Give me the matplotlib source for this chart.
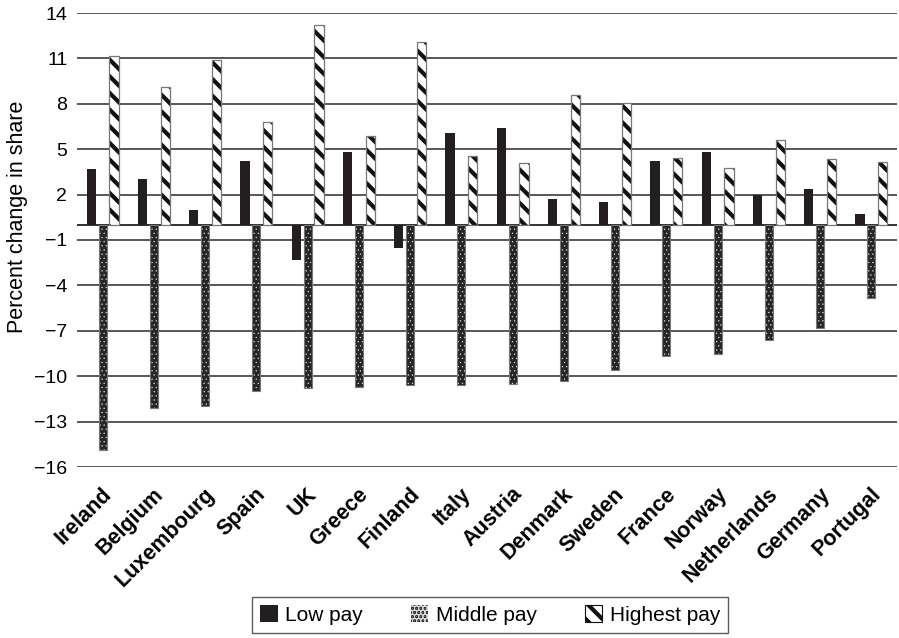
import matplotlib
matplotlib.use("Agg")
import matplotlib.pyplot as plt
import matplotlib.transforms as mtransforms
from matplotlib.patches import Patch
import numpy as np

plt.rcParams['font.family'] = ['Liberation Sans', 'DejaVu Sans']
plt.rcParams['hatch.linewidth'] = 3.0

countries = ["Ireland", "Belgium", "Luxembourg", "Spain", "UK", "Greece", "Finland",
             "Italy", "Austria", "Denmark", "Sweden", "France", "Norway",
             "Netherlands", "Germany", "Portugal"]
low_pay = [3.7, 3.0, 1.0, 4.2, -2.3, 4.8, -1.5, 6.1, 6.4, 1.7, 1.5, 4.2, 4.8, 2.0, 2.4, 0.7]
middle_pay = [-14.85, -12.1, -12.0, -10.95, -10.8, -10.7, -10.6, -10.6, -10.5, -10.3,
              -9.6, -8.65, -8.5, -7.6, -6.8, -4.85]
highest_pay = [11.15, 9.1, 10.9, 6.8, 13.2, 5.85, 12.1, 4.55, 4.1, 8.55, 8.05, 4.4,
               3.75, 5.6, 4.35, 4.15]
yticks = list(range(-16, 15, 3))

fig = plt.figure(figsize=(8.99, 6.38), dpi=100)
ax = fig.add_axes([77 / 899, 1 - 467 / 638, 820 / 899, 454 / 638])

x = np.arange(len(countries))
w = 0.18
off = 0.22

# horizontal grid
for yv in yticks:
    ax.axhline(yv, color="#4a4a4a", lw=1.3, zorder=0)
ax.axhline(0, color="#222222", lw=1.3, zorder=1)

# Low pay: solid black
ax.bar(x - off, low_pay, width=w, color="#231f20", lw=0, zorder=3)


def thin_hatch(patches, lw):
    for p in patches:
        if hasattr(p, "set_hatch_linewidth"):
            p.set_hatch_linewidth(lw)


# Middle pay: dark fill with fine white dot texture, grey outline
mid = ax.bar(x, middle_pay, width=w * 0.85, facecolor="#262626", edgecolor="#d8d8d8",
             hatch="....", lw=0, zorder=3)
thin_hatch(mid, 0.4)
ax.bar(x, middle_pay, width=w * 0.85, fill=False, edgecolor="#777777", lw=0.8, zorder=4)

# Highest pay: white with thick diagonal stripes
ax.bar(x + off, highest_pay, width=w, facecolor="white", edgecolor="#111111",
       hatch="\\\\", lw=0, zorder=3)
ax.bar(x + off, highest_pay, width=w, fill=False, edgecolor="#777777", lw=0.9, zorder=4)

ax.set_xlim(-0.5, len(countries) - 0.5)
ax.set_ylim(-16, 14)
ax.set_yticks(yticks)
ax.set_yticklabels([str(v).replace("-", "\u2212") for v in yticks], fontsize=14)
ax.tick_params(axis="y", length=0, pad=7)
ax.tick_params(axis="x", length=0, pad=12)
ax.set_xticks(x)
ax.set_xticklabels(countries, rotation=45, ha="right", rotation_mode="anchor",
                   fontsize=15.5, fontweight="bold")
shift = mtransforms.ScaledTranslation(-1 / 100, 0, fig.dpi_scale_trans)
for lab in ax.get_xticklabels():
    lab.set_transform(lab.get_transform() + shift)

for s in ax.spines.values():
    s.set_visible(False)

ax.set_ylabel("Percent change in share", fontsize=15.5)
ax.yaxis.set_label_coords(-0.06, 0.55)

mid_h = Patch(facecolor="#262626", edgecolor="#d8d8d8", hatch="....", lw=0, label="Middle pay")
thin_hatch([mid_h], 0.4)
handles = [
    Patch(facecolor="#231f20", lw=0, label="Low pay"),
    mid_h,
    Patch(facecolor="white", edgecolor="#111111", hatch="\\\\", lw=0.8, label="Highest pay"),
]
leg = fig.legend(handles=handles, loc="center", ncol=3,
                 bbox_to_anchor=(490 / 899, 1 - 615 / 638),
                 fontsize=15, frameon=True, fancybox=False, edgecolor="#333333",
                 handlelength=0.85, handleheight=0.85, handletextpad=0.35,
                 columnspacing=2.3, borderpad=0.4, borderaxespad=0)
leg.get_frame().set_linewidth(1.0)

fig.savefig("out.png", dpi=100)
